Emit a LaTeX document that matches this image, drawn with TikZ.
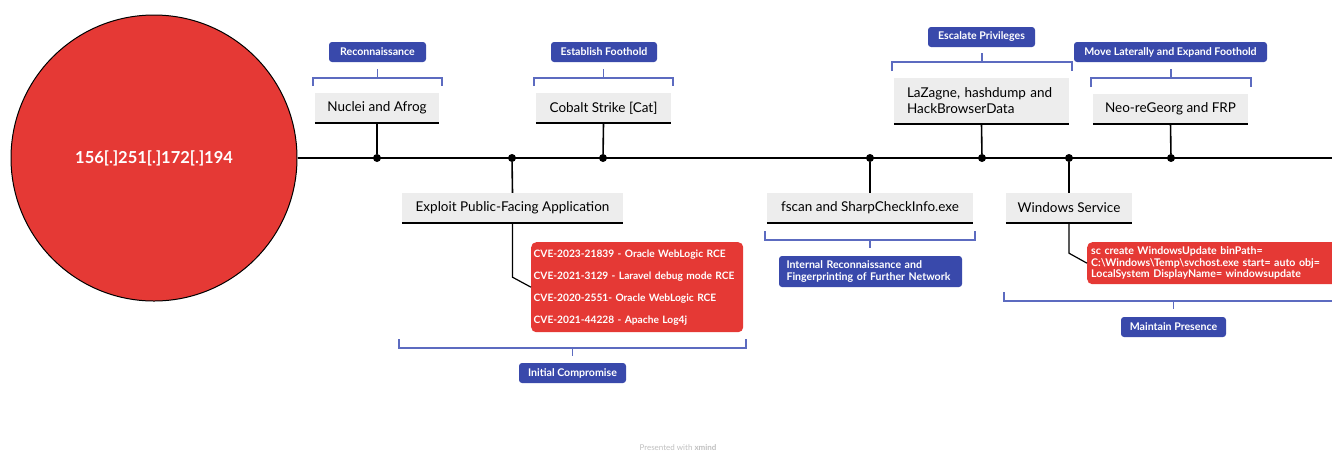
\documentclass[tikz,border=0pt]{standalone}
\usepackage{fontspec}
\setmainfont{Lato}
\usetikzlibrary{positioning}

\definecolor{xred}{HTML}{E53935}
\definecolor{xblue}{HTML}{3949AB}
\definecolor{xbrace}{HTML}{5C6BC0}
\definecolor{xgray}{HTML}{EDEDED}

\tikzset{
  tool/.style={fill=xgray, minimum height=30pt, inner xsep=0pt,
    font=\fontsize{13.5}{16}\selectfont},
  phase/.style={fill=xblue, text=white, rounded corners=3pt, minimum height=20pt,
    inner xsep=0pt, font=\bfseries\fontsize{10.6}{12}\selectfont},
  note/.style={fill=xred, text=white, rounded corners=5pt, anchor=north west,
    align=left, font=\bfseries\fontsize{10.6}{12}\selectfont},
  dot/.style={circle, fill=black, inner sep=0pt, minimum size=8pt},
  stem/.style={line width=1.6pt},
  base/.style={line width=2.4pt},
  brace/.style={draw=xbrace, line width=1.1pt}
}

\begin{document}
\begin{tikzpicture}[x=1pt, y=-1pt]
  \useasboundingbox (0,0) rectangle (1332,451);

  % central topic and timeline
  \node [circle, draw=black, line width=1pt, fill=xred, text=white, minimum size=286pt,
    font=\bfseries\fontsize{16.5}{18}\selectfont] (ip) at (154,158) {156[.]251[.]172[.]194};
  \coordinate (tend) at (1340,158);
  \draw[stem] (ip.east) -- (tend);

  \node [dot] (d1) at (377,158) {};
  \node [dot] (d2) at (512,158) {};
  \node [dot] (d3) at (603,158) {};
  \node [dot] (d4) at (870,158) {};
  \node [dot] (d5) at (982,158) {};
  \node [dot] (d6) at (1069,158) {};
  \node [dot] (d7) at (1171,158) {};

  % tools above the line
  \node [tool, minimum width=124pt] (nuclei) at (377,108) {Nuclei and Afrog};
  \node [tool, minimum width=135pt] (cobalt) at (603.5,108) {Cobalt Strike [Cat]};
  \node [tool, minimum width=175pt, minimum height=46pt, text width=149pt, align=left]
    (lazagne) at (981.5,101) {LaZagne, hashdump and\\HackBrowserData};
  \node [tool, minimum width=155pt] (neo) at (1170.5,108.5) {Neo-reGeorg and FRP};

  % tools below the line
  \node [tool, minimum width=221pt] (exploit) at (512.5,208) {Exploit Public-Facing Application};
  \node [tool, minimum width=206pt] (fscan) at (870,208) {fscan and SharpCheckInfo.exe};
  \node [tool, minimum width=126pt] (winsvc) at (1069,208) {Windows Service};

  \foreach \n in {nuclei,cobalt,lazagne,neo,exploit,fscan,winsvc}
    \draw[base] (\n.south west) -- (\n.south east);

  \draw[stem] (nuclei.south) -- (d1);
  \draw[stem] (cobalt.south) -- (d3);
  \draw[stem] (lazagne.south) -- (d5);
  \draw[stem] (neo.south) -- (d7);
  \draw[stem] (d2) -- (exploit.north);
  \draw[stem] (d4) -- (fscan.north);
  \draw[stem] (d6) -- (winsvc.north);

  % details
  \node [note, minimum height=90pt, text width=207pt, inner xsep=2.5pt,
    font=\bfseries\fontsize{10.2}{12}\selectfont,
    execute at begin node={\setlength{\baselineskip}{22pt}}] (cve) at (531,242)
    {CVE-2023-21839 - Oracle WebLogic RCE\\
     CVE-2021-3129 - Laravel debug mode RCE\\
     CVE-2020-2551- Oracle WebLogic RCE\\
     CVE-2021-44228 - Apache Log4j};
  \node [note, minimum height=42pt, text width=260pt, inner xsep=4pt,
    execute at begin node={\setlength{\baselineskip}{11.5pt}}] (sc) at (1087,242)
    {sc create WindowsUpdate binPath=\\
     C:\textbackslash Windows\textbackslash Temp\textbackslash svchost.exe start= auto obj=\\
     LocalSystem DisplayName= windowsupdate};
  \draw[stem, line width=1.2pt] (exploit.south) -- ++(0,54) -- (cve.west);
  \draw[stem, line width=1.2pt] (winsvc.south) -- ++(0,30) -- (sc.west);

  % phases
  \node [phase, minimum width=97pt] (recon) at (377.5,52) {Reconnaissance};
  \node [phase, minimum width=106pt] (foothold) at (604,52) {Establish Foothold};
  \node [phase, minimum width=107pt] (escalate) at (981.5,37) {Escalate Privileges};
  \node [phase, minimum width=193pt] (lateral) at (1170.5,52) {Move Laterally and Expand Foothold};
  \node [phase, minimum width=107pt] (initial) at (572.5,373) {Initial Compromise};
  \node [phase, minimum width=183pt, minimum height=31pt, text width=168pt, align=left,
    execute at begin node={\setlength{\baselineskip}{11.5pt}}] (internal) at (870.5,271.5)
    {Internal Reconnaissance and\\Fingerprinting of Further Network};
  \node [phase, minimum width=105pt] (presence) at (1173.5,327) {Maintain Presence};

  % brackets
  \draw[brace] (313,86) |- (442,78) -- (442,86);
  \draw[brace] (377.5,78) -- (377.5,69);
  \draw[brace] (534,86) |- (673,78) -- (673,86);
  \draw[brace] (603.5,78) -- (603.5,69);
  \draw[brace] (892,71) |- (1072,62) -- (1072,71);
  \draw[brace] (982,62) -- (982,53);
  \draw[brace] (1091,87) |- (1251,78) -- (1251,87);
  \draw[brace] (1171,78) -- (1171,69);
  \draw[brace] (399,339) |- (746,348) -- (746,339);
  \draw[brace] (572.5,348) -- (572.5,356);
  \draw[brace] (765,231) |- (975,240) -- (975,231);
  \draw[brace] (870,240) -- (870,248);
  \draw[brace] (1004,292) |- (1345,301);
  \draw[brace] (1173.5,301) -- (1173.5,309);

  \node [anchor=north, inner sep=0pt, text=black!25, font=\fontsize{8}{10}\selectfont]
    (credit) at (678,444) {Presented with \textbf{xmind}};
\end{tikzpicture}
\end{document}
